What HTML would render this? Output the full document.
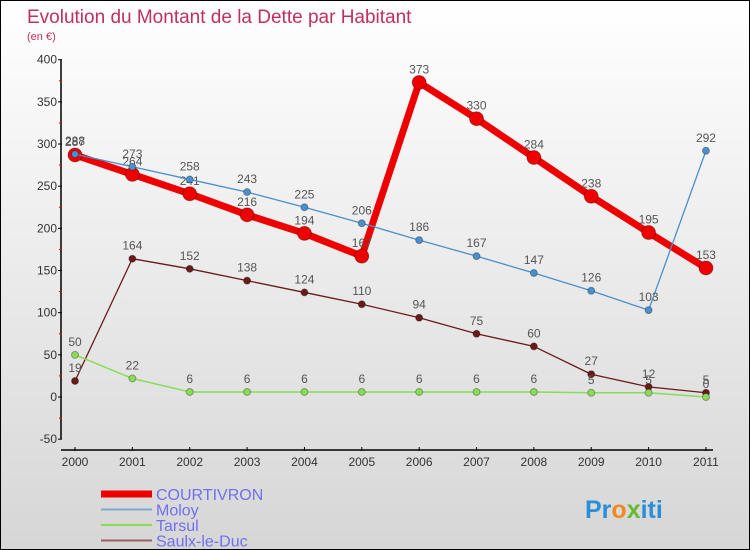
<!DOCTYPE html>
<html><head><meta charset="utf-8"><style>
body{margin:0;}
#c{width:748px;height:548px;border:1px solid #000;background:linear-gradient(#fff,#d6d6d6);position:relative;overflow:hidden;font-family:"Liberation Sans",sans-serif;}
</style></head><body>
<div id="c">
<svg id="s" width="748" height="548"></svg>
</div>
<script>
const years=["2000","2001","2002","2003","2004","2005","2006","2007","2008","2009","2010","2011"];
const courtivron=[287,264,241,216,194,167,373,330,284,238,195,153];
const moloy=[288,273,258,243,225,206,186,167,147,126,103,292];
const tarsul=[50,22,6,6,6,6,6,6,6,5,5,0];
const saulx=[19,164,152,138,124,110,94,75,60,27,12,5];
const yTicks=[-50,0,50,100,150,200,250,300,350,400];
const NS="http://www.w3.org/2000/svg";
const s=document.getElementById('s');
function X(i){return 74+i*57.36;}
function Y(v){return 396-v*0.8433;}
function el(t,a,p){const e=document.createElementNS(NS,t);for(const k in a)e.setAttribute(k,a[k]);(p||s).appendChild(e);return e;}
let t=el('text',{x:26,y:22,fill:'#c0305a','font-size':19});t.textContent='Evolution du Montant de la Dette par Habitant';

t=el('text',{x:26,y:39,fill:'#c0305a','font-size':11});t.textContent='(en €)';

let a=el('line',{x1:60,y1:Y(400),x2:60,y2:Y(-50),stroke:'#000','stroke-width':1.5});

a=el('line',{x1:60,y1:449,x2:712,y2:449,stroke:'#000','stroke-width':1.5});

yTicks.forEach((v,i)=>{
 el('line',{x1:57,x2:61,y1:Y(v),y2:Y(v),stroke:'#000'});
 if(i<yTicks.length-1){el('line',{x1:58,x2:61,y1:Y(v+25),y2:Y(v+25),stroke:'#e00'});}
 const tx=el('text',{x:56,y:Y(v)+4,'text-anchor':'end','font-size':12,fill:'#333'});tx.textContent=v;
 
});
years.forEach((y,i)=>{
 el('line',{x1:X(i),x2:X(i),y1:446,y2:450,stroke:'#000'});
 const tx=el('text',{x:X(i),y:465,'text-anchor':'middle','font-size':12,fill:'#333'});tx.textContent=y;
 
});
function series(d,color,lw,r,name){
 const g=el('g',{});
 
 el('polyline',{points:d.map((v,i)=>X(i)+','+Y(v)).join(' '),fill:'none',stroke:color,'stroke-width':lw,'stroke-linejoin':'round'},g);
 d.forEach((v,i)=>{
  const c=el('circle',{cx:X(i),cy:Y(v),r:r,fill:color,stroke:'rgba(0,0,0,0.3)'},g);
  
  const tx=el('text',{x:X(i),y:Y(v)-9,'text-anchor':'middle','font-size':12,fill:'#555'},g);tx.textContent=v;
  
 });
}
series(saulx,'#6b1a1a',1.3,3.5,'saulx');
series(tarsul,'#88dd55',1.5,3.5,'tarsul');
series(courtivron,'#ee0000',7,7,'courtivron');
series(moloy,'#4a90cc',1.3,3.5,'moloy');
const leg=[['COURTIVRON','#ee0000',7],['Moloy','#7aaed0',2],['Tarsul','#88dd55',2],['Saulx-le-Duc','#9a6060',2]];
leg.forEach((l,i)=>{
 const y=493+i*15.5;
 const ln=el('line',{x1:100,x2:151,y1:y,y2:y,stroke:l[1],'stroke-width':l[2]});
 
 const tx=el('text',{x:155,y:y+6,'font-size':16,fill:'#7070f0'});tx.textContent=l[0];
 
});
t=el('text',{x:584,y:517,'font-size':25,'font-weight':'bold',fill:'#2a8fd8'});

t.innerHTML='<tspan fill="#2a8fd8">Pr</tspan><tspan fill="#f08a20">o</tspan><tspan fill="#66bb33">x</tspan><tspan fill="#2a8fd8">iti</tspan>';
</script>
</body></html>
